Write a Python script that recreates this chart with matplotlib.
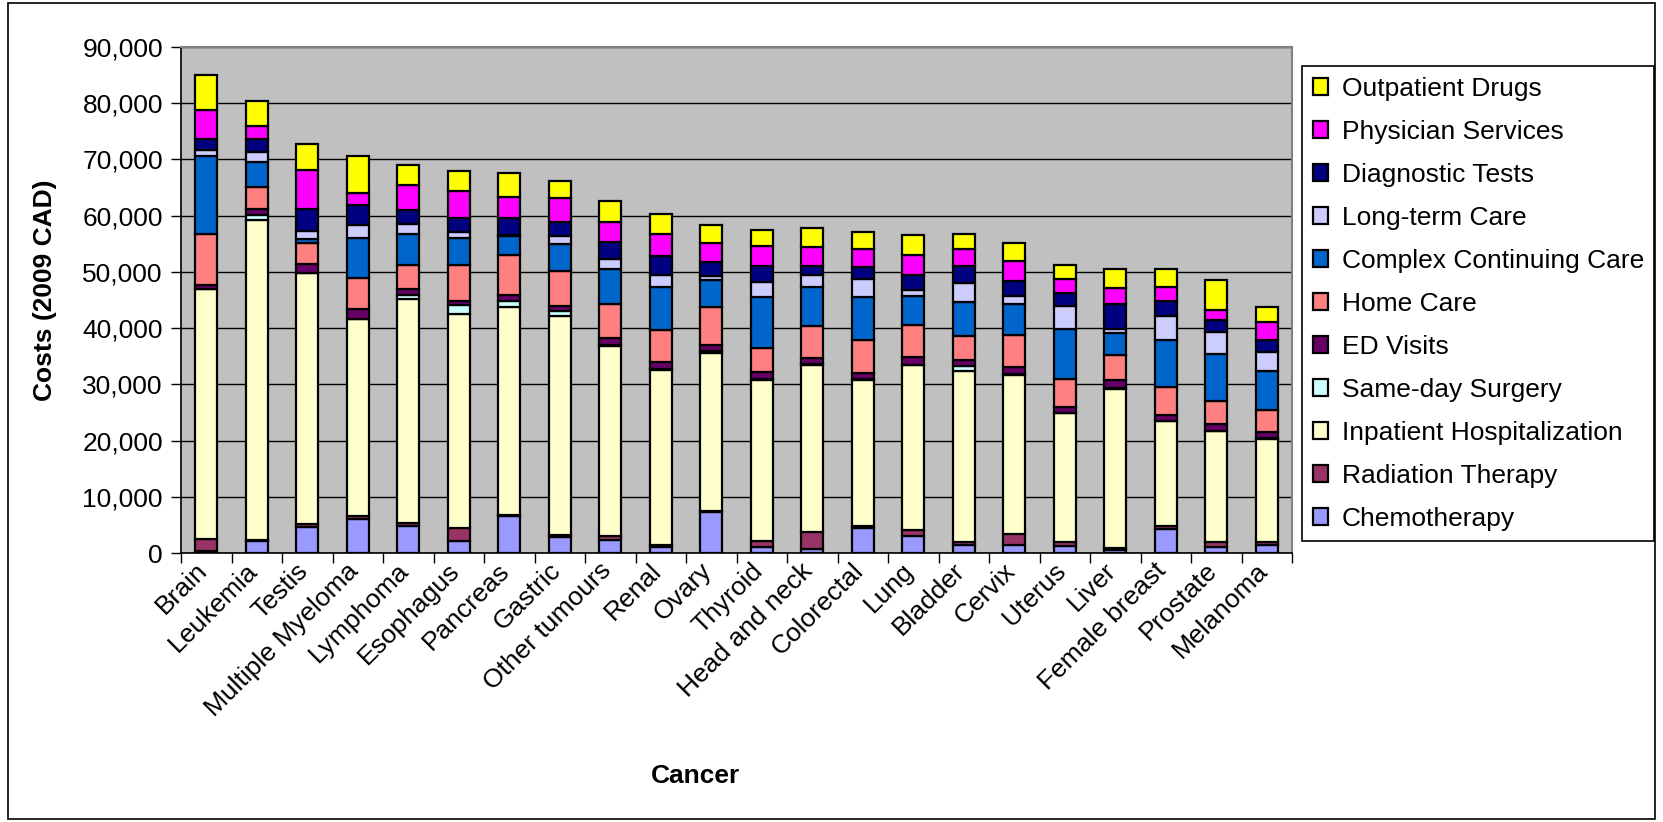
import matplotlib
matplotlib.use("Agg")
import matplotlib.pyplot as plt
import numpy as np
from matplotlib.patches import Rectangle
from matplotlib.ticker import FuncFormatter, FixedLocator

plt.rcParams['font.family'] = ['Liberation Sans', 'DejaVu Sans']

cancers = ['Brain', 'Leukemia', 'Testis', 'Multiple Myeloma', 'Lymphoma', 'Esophagus',
           'Pancreas', 'Gastric', 'Other tumours', 'Renal', 'Ovary', 'Thyroid',
           'Head and neck', 'Colorectal', 'Lung', 'Bladder', 'Cervix', 'Uterus',
           'Liver', 'Female breast', 'Prostate', 'Melanoma']

# cost components, bottom of the stack first
chemo = [300, 2150, 4600, 6050, 4740, 2190, 6520, 2840, 2370, 1070, 7290,
         1000, 700, 4440, 2960, 1480, 1480, 1190, 500, 4270, 1070, 1480]
radiation = [2200, 100, 600, 590, 590, 2250, 290, 420, 590, 410, 100,
             1100, 3000, 300, 1070, 420, 1900, 770, 390, 470, 890, 480]
inpatient = [44380, 57010, 44570, 34960, 39830, 38110, 36860, 38930, 33780, 31110, 28270,
             28700, 29750, 26070, 29350, 30520, 28340, 22930, 28340, 18670, 19670, 18370]
same_day = [120, 830, 100, 100, 650, 1600, 1190, 770, 300, 200, 200,
            150, 150, 100, 100, 770, 100, 100, 100, 100, 100, 100]
ed_visits = [650, 1060, 1540, 1780, 1120, 710, 1070, 1010, 1180, 1110, 1100,
             1220, 1050, 1090, 1380, 1060, 1270, 900, 1380, 960, 1200, 1080]
home_care = [9070, 3980, 3680, 5390, 4330, 6400, 7110, 6220, 6110, 5800, 6810,
             4320, 5750, 5810, 5750, 4380, 5740, 5030, 4450, 4980, 4030, 3970]
complex_care = [13870, 4380, 820, 7170, 5450, 4740, 3260, 4740, 6160, 7530, 4800,
                9070, 6870, 7640, 5160, 6050, 5510, 9010, 4030, 8360, 8420, 6940]
long_term = [1060, 1780, 1310, 2250, 1780, 1010, 290, 1370, 1840, 2190, 720,
             2610, 2190, 3260, 950, 3320, 1360, 4090, 710, 4260, 3850, 3250]
diagnostic = [1900, 2310, 4020, 3680, 2550, 2660, 3080, 2660, 3020, 3440, 2540,
              2840, 1660, 2080, 2660, 2960, 2660, 2190, 4450, 2670, 2250, 2140]
physician = [5330, 2430, 6820, 2130, 4380, 4630, 3620, 4210, 3500, 3850, 3260,
             3610, 3380, 3260, 3560, 3200, 3560, 2550, 2840, 2490, 1780, 3200]
drugs = [6220, 4370, 4740, 6520, 3620, 3670, 4380, 3020, 3680, 3620, 3200,
         2910, 3260, 3020, 3670, 2610, 3260, 2490, 3260, 3320, 5210, 2660]

series = [
    ('Chemotherapy', chemo, '#9999FF'),
    ('Radiation Therapy', radiation, '#993366'),
    ('Inpatient Hospitalization', inpatient, '#FFFFCC'),
    ('Same-day Surgery', same_day, '#CCFFFF'),
    ('ED Visits', ed_visits, '#660066'),
    ('Home Care', home_care, '#FF8080'),
    ('Complex Continuing Care', complex_care, '#0066CC'),
    ('Long-term Care', long_term, '#CCCCFF'),
    ('Diagnostic Tests', diagnostic, '#000080'),
    ('Physician Services', physician, '#FF00FF'),
    ('Outpatient Drugs', drugs, '#FFFF00'),
]

W, H = 1663, 822
fig = plt.figure(figsize=(W / 100, H / 100), dpi=100)
fig.patch.set_facecolor('white')
fig.patches.append(Rectangle((8 / W, 3 / H), 1 - 16 / W, 1 - 6 / H, transform=fig.transFigure,
                             fill=False, edgecolor='black', linewidth=1.2))

ax = fig.add_axes([181 / W, 1 - 553 / H, (1292 - 181) / W, (553 - 47) / H])
ax.set_facecolor('#C0C0C0')

x = np.arange(len(cancers))
bottom = np.zeros(len(cancers))
handles = []
for name, vals, col in series:
    vals = np.array(vals, dtype=float)
    b = ax.bar(x, vals, width=0.44, bottom=bottom, color=col, edgecolor='black',
               linewidth=1.6, label=name, zorder=3)
    handles.append(b)
    bottom += vals

ax.set_xlim(-0.5, len(cancers) - 0.5)
ax.set_ylim(0, 90000)
ax.set_yticks(np.arange(0, 90001, 10000))
ax.yaxis.set_major_formatter(FuncFormatter(lambda v, p: f'{int(v):,}'))
ax.grid(axis='y', color='black', linewidth=1.0, zorder=0)
ax.set_axisbelow(True)
ax.tick_params(axis='y', labelsize=19, length=7, width=1, direction='out', pad=6)

# labels sit at the bar centres, tick marks at the category boundaries
ax.set_xticks(x - 0.06)
ax.set_xticklabels(cancers, rotation=45, ha='right', va='center',
                   rotation_mode='anchor', fontsize=19)
ax.tick_params(axis='x', which='major', length=0, pad=10)
ax.xaxis.set_minor_locator(FixedLocator(np.arange(-0.5, len(cancers), 1.0)))
ax.tick_params(axis='x', which='minor', length=7, width=1, direction='out')

for s in ['left', 'bottom']:
    ax.spines[s].set_color('black')
    ax.spines[s].set_linewidth(1.2)
for s in ['top', 'right']:
    ax.spines[s].set_color('#808080')
    ax.spines[s].set_linewidth(1.5)

fig.text(45 / W, 1 - 290 / H, 'Costs (2009 CAD)', rotation=90, ha='center', va='center',
         fontsize=19, fontweight='bold')
fig.text(695 / W, 1 - 776 / H, 'Cancer', ha='center', va='center',
         fontsize=19, fontweight='bold')

leg = fig.legend(handles[::-1], [s[0] for s in series][::-1], loc='upper left',
                 bbox_to_anchor=(1302 / W, 1 - 66 / H), fontsize=19, frameon=True,
                 fancybox=False, edgecolor='black', framealpha=1,
                 handlelength=0.6, handleheight=0.6, handletextpad=0.5,
                 labelspacing=0.72, borderpad=0.4, borderaxespad=0)
leg.get_frame().set_linewidth(1.2)

fig.savefig('out.png', dpi=100)
